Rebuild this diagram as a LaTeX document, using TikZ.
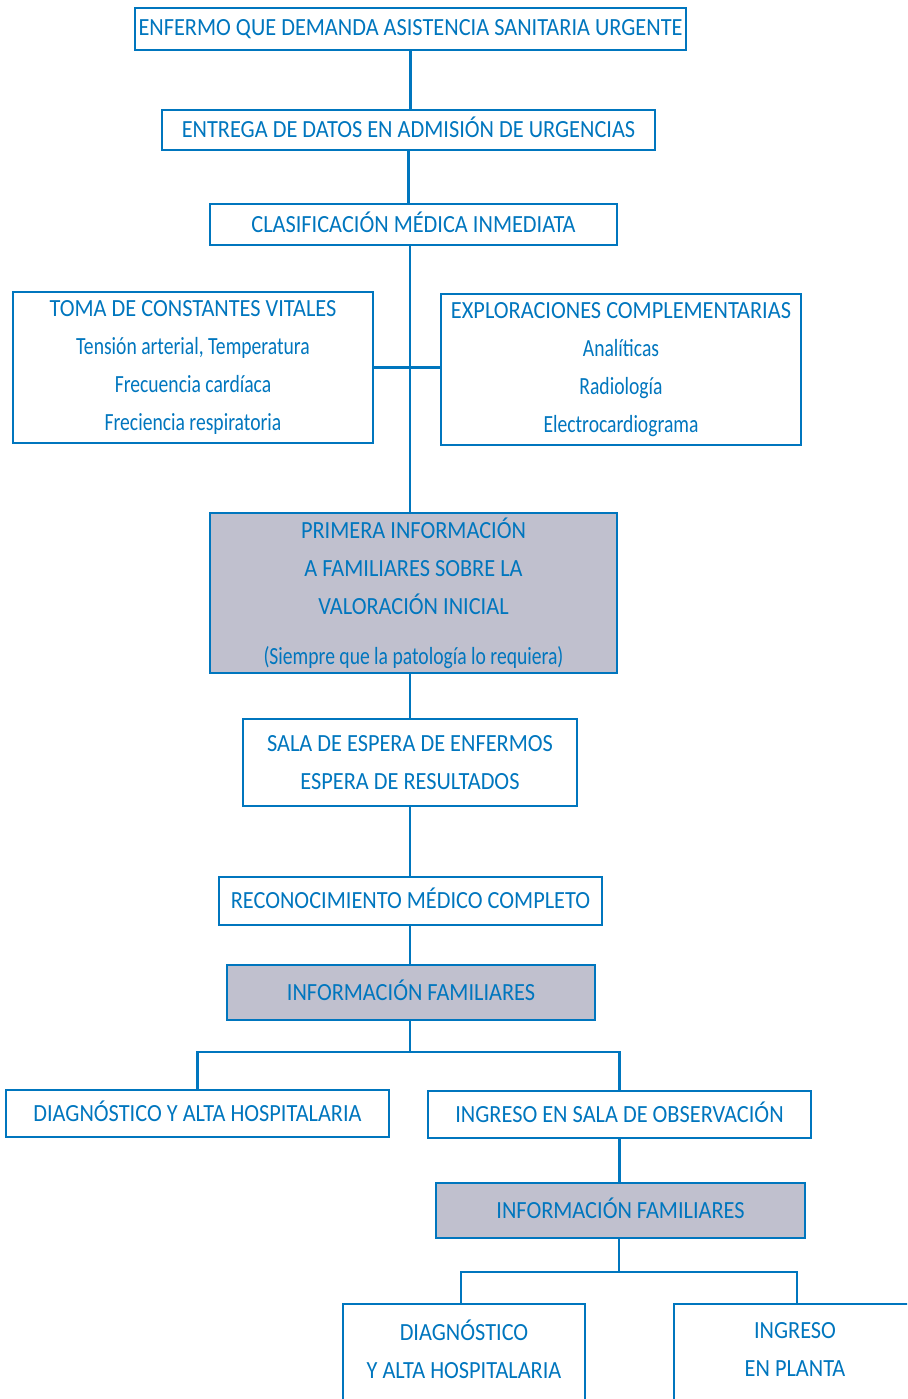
\documentclass[tikz,border=0pt]{standalone}
\usepackage{fontspec}
\setmainfont{Carlito}[FakeStretch=0.905]
\newfontfamily\fina{Carlito}[FakeStretch=0.795]
\usepackage{tikz}
\definecolor{azul}{RGB}{0,118,190}
\definecolor{grisazul}{RGB}{192,192,206}

\begin{document}
\begin{tikzpicture}[x=0.75pt, y=-0.75pt,
    caja/.style={draw=azul, line width=1pt, text=azul, align=center, inner sep=0pt,
        font=\fontsize{18.5}{28.5}\selectfont},
    linea/.style={caja, text height=12pt},
    gris/.style={linea, fill=grisazul},
    enlace/.style={draw=azul, line width=2.2pt}]
    \useasboundingbox (0,0) rectangle (907,1399);
    \clip (0,0) rectangle (907,1399);
    \coordinate (eje) at (410,0);
    \node[linea, minimum width=413.25pt, minimum height=31.5pt] (enfermo) at (410.5,29) {ENFERMO QUE DEMANDA ASISTENCIA SANITARIA URGENTE};
    \node[linea, minimum width=369.75pt, minimum height=30pt] (entrega) at (408.5,130) {ENTREGA DE DATOS EN ADMISIÓN DE URGENCIAS};
    \node[linea, minimum width=305.25pt, minimum height=30.75pt] (clasif) at (413.5,224.5) {CLASIFICACIÓN MÉDICA INMEDIATA};
    \node[caja, minimum width=270pt, minimum height=113.25pt] (toma) at (193,367.5) {TOMA DE CONSTANTES VITALES\\{\fina Tensión arterial, Temperatura}\\{\fina Frecuencia cardíaca}\\{\fina Freciencia respiratoria}};
    \node[caja, minimum width=270pt, minimum height=113.25pt] (explor) at (621,369.5) {EXPLORACIONES COMPLEMENTARIAS\\{\fina Analíticas}\\{\fina Radiología}\\{\fina Electrocardiograma}};
    \node[caja, fill=grisazul, minimum width=305.25pt, minimum height=120pt] (primera) at (413.5,593) {PRIMERA INFORMACIÓN\\A FAMILIARES SOBRE LA\\VALORACIÓN INICIAL\\[9pt]{\fina (Siempre que la patología lo requiera)}};
    \node[caja, minimum width=250.5pt, minimum height=65.25pt] (sala) at (410,762.5) {SALA DE ESPERA DE ENFERMOS\\ESPERA DE RESULTADOS};
    \node[linea, minimum width=287.25pt, minimum height=36pt] (reconoc) at (410.5,901) {RECONOCIMIENTO MÉDICO COMPLETO};
    \node[gris, minimum width=276pt, minimum height=41.25pt] (info1) at (411,992.5) {INFORMACIÓN FAMILIARES};
    \node[linea, minimum width=287.25pt, minimum height=35.25pt] (alta1) at (197.5,1113.5) {DIAGNÓSTICO Y ALTA HOSPITALARIA};
    \node[linea, minimum width=287.25pt, minimum height=35.25pt] (observ) at (619.5,1114.5) {INGRESO EN SALA DE OBSERVACIÓN};
    \node[gris, minimum width=276.75pt, minimum height=41.25pt] (info2) at (620.5,1210.5) {INFORMACIÓN FAMILIARES};
    \node[caja, minimum width=181.5pt, minimum height=105pt] (alta2) at (464,1374) {DIAGNÓSTICO\\Y ALTA HOSPITALARIA\\\strut};
    \node[caja, minimum width=181.5pt, minimum height=105pt] (planta) at (795,1374) {INGRESO\\EN PLANTA\\\strut};
    % conectores
    \draw[enlace] (enfermo.south) -- (enfermo.south |- entrega.north);
    \draw[enlace] (entrega.south) -- (entrega.south |- clasif.north);
    \draw[enlace] (clasif.south -| eje) -- (primera.north -| eje);
    \draw[enlace] (toma.east) -- (toma.east -| explor.west);
    \draw[enlace] (primera.south -| eje) -- (sala.north -| eje);
    \draw[enlace] (sala.south -| eje) -- (reconoc.north -| eje);
    \draw[enlace] (reconoc.south -| eje) -- (info1.north -| eje);
    \coordinate (rama1) at (410,1052);
    \draw[enlace] (info1.south -| eje) -- (rama1);
    \draw[enlace] (alta1.north) |- (rama1) -| (observ.north);
    \draw[enlace] (observ.south) -- (observ.south |- info2.north);
    \coordinate (rama2) at (619,1272);
    \draw[enlace] (info2.south -| rama2) -- (rama2);
    \draw[enlace] (alta2.north -| 461,0) |- (rama2) -| (planta.north -| 797,0);
\end{tikzpicture}
\end{document}
